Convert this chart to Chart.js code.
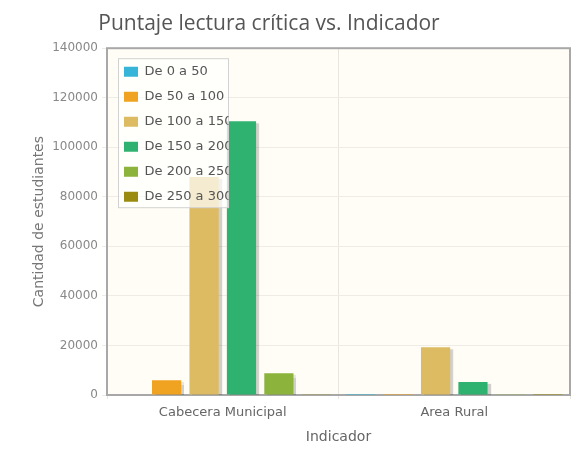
<!DOCTYPE html>
<html lang="es">
<head>
    <meta charset="UTF-8">
    <title>Puntaje lectura crítica vs. Indicador</title>
    <script src="https://cdn.jsdelivr.net/npm/chart.js"></script>
    <style>
        html, body { margin: 0; padding: 0; background: #fff; }
        .chart-container { width: 576px; height: 450px; }
    </style>
</head>
<body>
    <div class="chart-container">
        <canvas id="puntajeChart"></canvas>
    </div>

    <script>
        // datos
        const indicadores = ['Cabecera Municipal', 'Area Rural'];
        const rangos = ['De 0 a 50', 'De 50 a 100', 'De 100 a 150', 'De 150 a 200', 'De 200 a 250', 'De 250 a 300'];
        const de0a50 = [200, 50];
        const de50a100 = [6000, 400];
        const de100a150 = [88000, 19300];
        const de150a200 = [110500, 5200];
        const de200a250 = [8800, 300];
        const de250a300 = [100, 20];
        const yTicks = [0, 20000, 40000, 60000, 80000, 100000, 120000, 140000];

        const valores = [de0a50, de50a100, de100a150, de150a200, de200a250, de250a300];
        const colores = ['#36b5d8', '#f0a221', '#dcbb63', '#2fb26f', '#8cb33b', '#9a8b10'];
        const fuente = 'DejaVu Sans';

        // fondo, borde, sombra y leyenda al estilo jqPlot
        const estiloPlot = {
            id: 'estiloPlot',
            beforeDraw(chart) {
                const a = chart.chartArea, ctx = chart.ctx;
                ctx.save();
                ctx.fillStyle = '#fffdf6';
                ctx.fillRect(a.left, a.top, a.right - a.left, a.bottom - a.top);
                ctx.restore();
            },
            afterLayout(chart) {
                const a = chart.chartArea;
                const lg = chart.legend;
                if (lg) {
                    if (!lg._realDraw) {
                        lg._realDraw = lg.draw.bind(lg);
                        lg.draw = function () {};
                    }
                    lg.left = a.left + 5;
                    lg.top = a.top + 5;
                }
                const t = chart.titleBlock;
                if (t) { t.left -= 16; t.right -= 16; }
            },
            beforeDatasetsDraw(chart) {
                const a = chart.chartArea, ctx = chart.ctx;
                ctx.save();
                ctx.strokeStyle = '#a8a8a8';
                ctx.lineWidth = 2;
                ctx.strokeRect(a.left, a.top, a.right - a.left, a.bottom - a.top);
                ctx.shadowColor = 'rgba(0,0,0,0.18)';
                ctx.shadowOffsetX = 3;
                ctx.shadowOffsetY = 2;
                ctx.shadowBlur = 1;
            },
            afterDatasetsDraw(chart) {
                const ctx = chart.ctx;
                ctx.restore();
                const lg = chart.legend;
                if (!lg || !lg._realDraw) return;
                const a = chart.chartArea;
                const x = a.left + 11.5, y = a.top + 10.5, w = 110, h = 149;
                ctx.save();
                ctx.fillStyle = 'rgba(255,255,255,0.7)';
                ctx.strokeStyle = '#d2d2d2';
                ctx.lineWidth = 1;
                ctx.fillRect(x, y, w, h);
                ctx.strokeRect(x, y, w, h);
                ctx.beginPath();
                ctx.rect(x, y, w, h);
                ctx.clip();
                lg._realDraw();
                ctx.restore();
            }
        };

        const ctx = document.getElementById('puntajeChart').getContext('2d');
        new Chart(ctx, {
            type: 'bar',
            data: {
                labels: indicadores,
                datasets: rangos.map((r, i) => ({
                    label: r,
                    data: valores[i],
                    backgroundColor: colores[i],
                    borderWidth: 0,
                    barPercentage: 0.78,
                    categoryPercentage: 0.97
                }))
            },
            options: {
                responsive: true,
                maintainAspectRatio: false,
                animation: false,
                layout: { padding: { left: 0, right: 6, top: 0, bottom: 0 } },
                plugins: {
                    title: {
                        display: true,
                        text: 'Puntaje lectura crítica vs. Indicador',
                        color: '#555',
                        font: { family: 'Open Sans', size: 21, weight: 'normal' },
                        padding: { top: 11, bottom: 12 }
                    },
                    legend: {
                        position: 'chartArea',
                        align: 'start',
                        labels: {
                            boxWidth: 14,
                            boxHeight: 10,
                            padding: 12,
                            color: '#555',
                            font: { family: fuente, size: 13 }
                        }
                    },
                    tooltip: { enabled: false }
                },
                scales: {
                    x: {
                        grid: { color: '#e8e6de', tickLength: 4, offset: true },
                        border: { display: false },
                        ticks: { color: '#666', padding: 6, font: { family: fuente, size: 13 } },
                        title: {
                            display: true, text: 'Indicador', color: '#666',
                            font: { family: fuente, size: 14 },
                            padding: { top: 0, bottom: 4 }
                        },
                        afterFit(scale) { scale.height = 55; }
                    },
                    y: {
                        min: 0,
                        max: 140000,
                        afterBuildTicks(scale) { scale.ticks = yTicks.map(v => ({ value: v })); },
                        grid: { color: '#eeece4', tickLength: 5 },
                        border: { display: false },
                        ticks: {
                            color: '#888', padding: 4,
                            font: { family: fuente, size: 12 },
                            callback: v => String(v)
                        },
                        title: {
                            display: true, text: 'Cantidad de estudiantes', color: '#777',
                            font: { family: fuente, size: 14 },
                            padding: { top: 31, bottom: 0 }
                        },
                        afterFit(scale) { scale.width = 107; }
                    }
                }
            },
            plugins: [estiloPlot]
        });
    </script>
</body>
</html>
